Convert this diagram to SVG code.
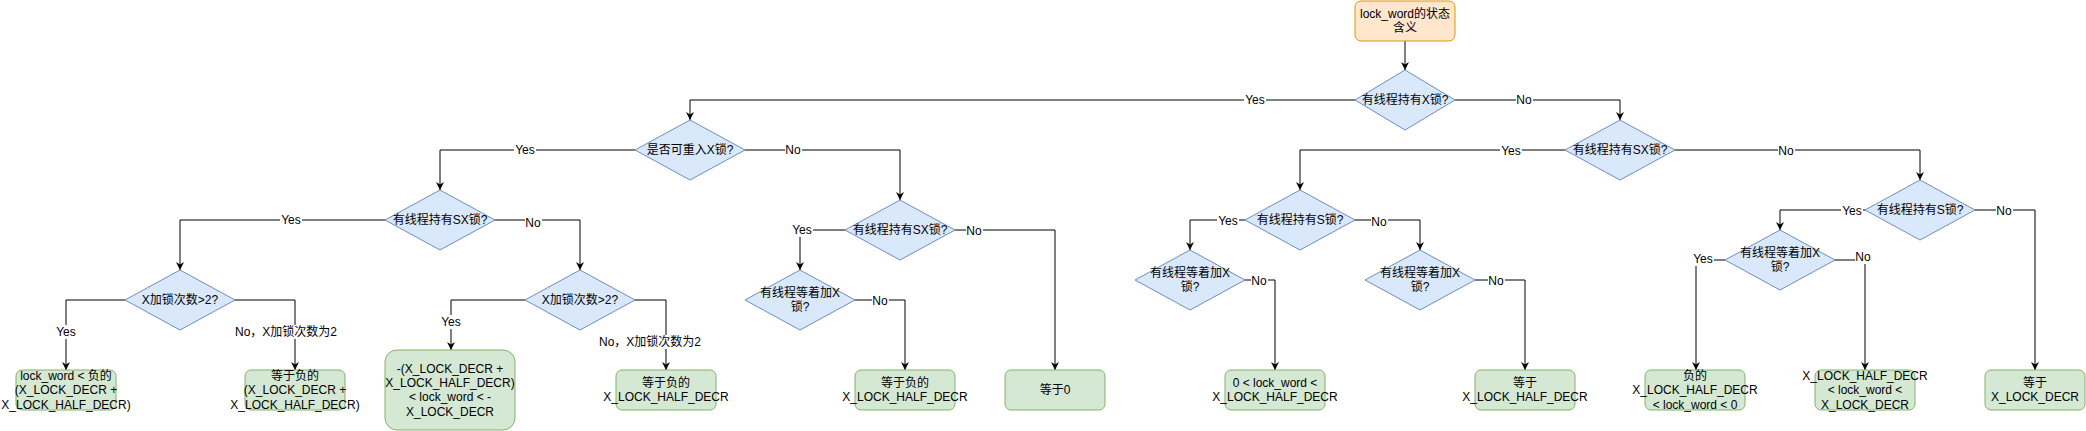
<svg xmlns="http://www.w3.org/2000/svg" width="2086" height="431" viewBox="0 0 2086 431">
<style>
.d{fill:#dae8fc;stroke:#6c8ebf;stroke-width:1}
.g{fill:#d5e8d4;stroke:#82b366;stroke-width:1}
.o{fill:#ffe6cc;stroke:#d79b00;stroke-width:1}
text{font-family:"Liberation Sans","Noto Sans CJK SC",sans-serif;font-size:12px;fill:#000;text-anchor:middle}
.e{fill:none;stroke:#000;stroke-width:1;marker-end:url(#arr)}
.lb{fill:#fff}
</style>
<defs>
<marker id="arr" viewBox="0 0 10 10" refX="10" refY="5" markerWidth="8" markerHeight="8" markerUnits="userSpaceOnUse" orient="auto">
<path d="M0,0 L10,5 L0,10 L3,5 z" fill="#000"/>
</marker>
</defs>
<g id="connectors">
<path class="e" d="M1405,41 L1405,70"/>
<path class="e" d="M1355,100 L690,100 L690,120"/>
<path class="e" d="M1455,100 L1620,100 L1620,120"/>
<path class="e" d="M635,150 L440,150 L440,190"/>
<path class="e" d="M745,150 L900,150 L900,200"/>
<path class="e" d="M385,220 L180,220 L180,270"/>
<path class="e" d="M495,220 L580,220 L580,270"/>
<path class="e" d="M125,300 L66,300 L66,370"/>
<path class="e" d="M235,300 L295,300 L295,370"/>
<path class="e" d="M525,300 L451,300 L451,350"/>
<path class="e" d="M635,300 L666,300 L666,370"/>
<path class="e" d="M845,230 L800,230 L800,270"/>
<path class="e" d="M955,230 L1055,230 L1055,370"/>
<path class="e" d="M855,300 L905,300 L905,370"/>
<path class="e" d="M1565,150 L1300,150 L1300,190"/>
<path class="e" d="M1675,150 L1920,150 L1920,180"/>
<path class="e" d="M1245,220 L1190,220 L1190,250"/>
<path class="e" d="M1355,220 L1420,220 L1420,250"/>
<path class="e" d="M1245,280 L1275,280 L1275,370"/>
<path class="e" d="M1475,280 L1525,280 L1525,370"/>
<path class="e" d="M1865,210 L1780,210 L1780,230"/>
<path class="e" d="M1975,210 L2035,210 L2035,370"/>
<path class="e" d="M1725,260 L1696,260 L1696,370"/>
<path class="e" d="M1835,260 L1865,260 L1865,370"/>
<g id="edge-labels">
<rect class="lb" x="1244" y="93" width="22" height="14"/><text x="1255" y="104">Yes</text>
<rect class="lb" x="1516" y="93" width="17" height="14"/><text x="1524" y="104">No</text>
<rect class="lb" x="514" y="143" width="22" height="14"/><text x="525" y="154">Yes</text>
<rect class="lb" x="785" y="143" width="17" height="14"/><text x="793" y="154">No</text>
<rect class="lb" x="280" y="213" width="22" height="14"/><text x="291" y="224">Yes</text>
<rect class="lb" x="525" y="216" width="17" height="14"/><text x="533" y="227">No</text>
<rect class="lb" x="55" y="325" width="22" height="14"/><text x="66" y="336">Yes</text>
<rect class="lb" x="234" y="325" width="104" height="14"/><text x="286" y="336">No，X加锁次数为2</text>
<rect class="lb" x="440" y="315" width="22" height="14"/><text x="451" y="326">Yes</text>
<rect class="lb" x="598" y="335" width="104" height="14"/><text x="650" y="346">No，X加锁次数为2</text>
<rect class="lb" x="791" y="223" width="22" height="14"/><text x="802" y="234">Yes</text>
<rect class="lb" x="966" y="224" width="17" height="14"/><text x="974" y="235">No</text>
<rect class="lb" x="872" y="294" width="17" height="14"/><text x="880" y="305">No</text>
<rect class="lb" x="1500" y="144" width="22" height="14"/><text x="1511" y="155">Yes</text>
<rect class="lb" x="1778" y="144" width="17" height="14"/><text x="1786" y="155">No</text>
<rect class="lb" x="1217" y="214" width="22" height="14"/><text x="1228" y="225">Yes</text>
<rect class="lb" x="1371" y="215" width="17" height="14"/><text x="1379" y="226">No</text>
<rect class="lb" x="1251" y="274" width="17" height="14"/><text x="1259" y="285">No</text>
<rect class="lb" x="1488" y="274" width="17" height="14"/><text x="1496" y="285">No</text>
<rect class="lb" x="1841" y="204" width="22" height="14"/><text x="1852" y="215">Yes</text>
<rect class="lb" x="1996" y="204" width="17" height="14"/><text x="2004" y="215">No</text>
<rect class="lb" x="1692" y="252" width="22" height="14"/><text x="1703" y="263">Yes</text>
<rect class="lb" x="1855" y="250" width="17" height="14"/><text x="1863" y="261">No</text>
</g>
</g>
<g id="root"><rect class="o" x="1355" y="1" width="100" height="40" rx="6"/><text x="1405" y="18">lock_word的状态</text><text x="1405" y="32.4">含义</text></g>
<g id="d1"><polygon class="d" points="1405,70 1455,100 1405,130 1355,100"/><text x="1405" y="104.2">有线程持有X锁?</text></g>
<g id="d2"><polygon class="d" points="690,120 745,150 690,180 635,150"/><text x="690" y="154.2">是否可重入X锁?</text></g>
<g id="d3"><polygon class="d" points="1620,120 1675,150 1620,180 1565,150"/><text x="1620" y="154.2">有线程持有SX锁?</text></g>
<g id="d4"><polygon class="d" points="440,190 495,220 440,250 385,220"/><text x="440" y="224.2">有线程持有SX锁?</text></g>
<g id="d5"><polygon class="d" points="900,200 955,230 900,260 845,230"/><text x="900" y="234.2">有线程持有SX锁?</text></g>
<g id="d6"><polygon class="d" points="180,270 235,300 180,330 125,300"/><text x="180" y="304.2">X加锁次数&gt;2?</text></g>
<g id="d7"><polygon class="d" points="580,270 635,300 580,330 525,300"/><text x="580" y="304.2">X加锁次数&gt;2?</text></g>
<g id="d8"><polygon class="d" points="800,270 855,300 800,330 745,300"/><text x="800" y="297">有线程等着加X</text><text x="800" y="311.4">锁?</text></g>
<g id="d9"><polygon class="d" points="1300,190 1355,220 1300,250 1245,220"/><text x="1300" y="224.2">有线程持有S锁?</text></g>
<g id="d10"><polygon class="d" points="1920,180 1975,210 1920,240 1865,210"/><text x="1920" y="214.2">有线程持有S锁?</text></g>
<g id="d11"><polygon class="d" points="1780,230 1835,260 1780,290 1725,260"/><text x="1780" y="257">有线程等着加X</text><text x="1780" y="271.4">锁?</text></g>
<g id="d12"><polygon class="d" points="1190,250 1245,280 1190,310 1135,280"/><text x="1190" y="277">有线程等着加X</text><text x="1190" y="291.4">锁?</text></g>
<g id="d13"><polygon class="d" points="1420,250 1475,280 1420,310 1365,280"/><text x="1420" y="277">有线程等着加X</text><text x="1420" y="291.4">锁?</text></g>
<g id="b1"><rect class="g" x="16" y="370" width="100" height="40" rx="6"/><text x="66" y="379.8">lock_word &lt; 负的</text><text x="66" y="394.2">(X_LOCK_DECR +</text><text x="66" y="408.6">X_LOCK_HALF_DECR)</text></g>
<g id="b2"><rect class="g" x="245" y="370" width="100" height="40" rx="6"/><text x="295" y="379.8">等于负的</text><text x="295" y="394.2">(X_LOCK_DECR +</text><text x="295" y="408.6">X_LOCK_HALF_DECR)</text></g>
<g id="b3"><rect class="g" x="385" y="350" width="130" height="80" rx="12"/><text x="450" y="372.6">-(X_LOCK_DECR +</text><text x="450" y="387">X_LOCK_HALF_DECR)</text><text x="450" y="401.4">&lt; lock_word &lt; -</text><text x="450" y="415.8">X_LOCK_DECR</text></g>
<g id="b4"><rect class="g" x="616" y="370" width="100" height="40" rx="6"/><text x="666" y="387">等于负的</text><text x="666" y="401.4">X_LOCK_HALF_DECR</text></g>
<g id="b5"><rect class="g" x="855" y="370" width="100" height="40" rx="6"/><text x="905" y="387">等于负的</text><text x="905" y="401.4">X_LOCK_HALF_DECR</text></g>
<g id="b6"><rect class="g" x="1005" y="370" width="100" height="40" rx="6"/><text x="1055" y="394.2">等于0</text></g>
<g id="b7"><rect class="g" x="1225" y="370" width="100" height="40" rx="6"/><text x="1275" y="387">0 &lt; lock_word &lt;</text><text x="1275" y="401.4">X_LOCK_HALF_DECR</text></g>
<g id="b8"><rect class="g" x="1475" y="370" width="100" height="40" rx="6"/><text x="1525" y="387">等于</text><text x="1525" y="401.4">X_LOCK_HALF_DECR</text></g>
<g id="b9"><rect class="g" x="1645" y="370" width="100" height="40" rx="6"/><text x="1695" y="379.8">负的</text><text x="1695" y="394.2">X_LOCK_HALF_DECR</text><text x="1695" y="408.6">&lt; lock_word &lt; 0</text></g>
<g id="b10"><rect class="g" x="1815" y="370" width="100" height="40" rx="6"/><text x="1865" y="379.8">X_LOCK_HALF_DECR</text><text x="1865" y="394.2">&lt; lock_word &lt;</text><text x="1865" y="408.6">X_LOCK_DECR</text></g>
<g id="b11"><rect class="g" x="1985" y="370" width="100" height="40" rx="6"/><text x="2035" y="387">等于</text><text x="2035" y="401.4">X_LOCK_DECR</text></g>
</svg>
